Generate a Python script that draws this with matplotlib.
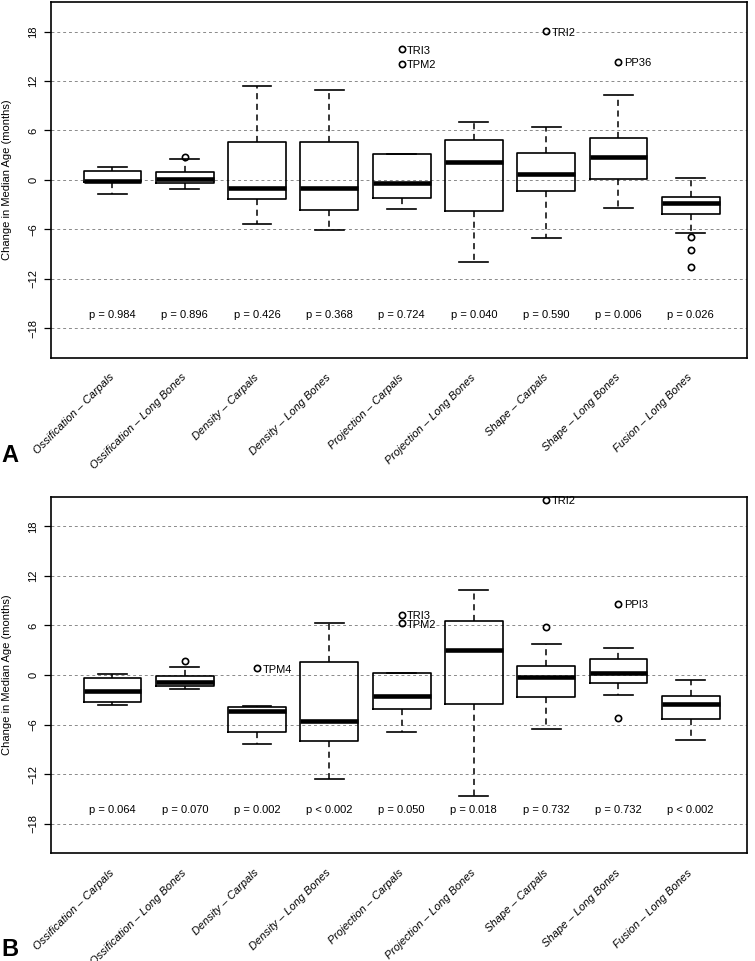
import matplotlib
matplotlib.use("Agg")
import matplotlib.pyplot as plt
from matplotlib.transforms import offset_copy

plt.rcParams['font.family'] = ['Liberation Sans', 'DejaVu Sans']

categories = ["Ossification – Carpals", "Ossification – Long Bones", "Density – Carpals",
              "Density – Long Bones", "Projection – Carpals", "Projection – Long Bones",
              "Shape – Carpals", "Shape – Long Bones", "Fusion – Long Bones"]
yticks = [-18, -12, -6, 0, 6, 12, 18]

# Panel A box statistics
a_whishi = [1.62, 2.5, 11.36, 10.96, 3.1, 7.0, 6.43, 10.3, 0.24]
a_q3 = [1.02, 0.93, 4.6, 4.6, 3.1, 4.8, 3.32, 5.05, -2.1]
a_med = [-0.1, 0.12, -1.05, -1.05, -0.44, 2.18, 0.69, 2.79, -2.79]
a_q1 = [-0.24, -0.44, -2.34, -3.67, -2.26, -3.76, -1.41, 0.05, -4.2]
a_whislo = [-1.7, -1.13, -5.37, -6.1, -3.59, -10.0, -7.07, -3.43, -6.42]
a_fliers = [[], [2.8], [], [], [15.84, 14.1], [], [18.06], [14.3], [-6.95, -8.52, -10.55]]
a_pvals = ["p = 0.984", "p = 0.896", "p = 0.426", "p = 0.368", "p = 0.724",
           "p = 0.040", "p = 0.590", "p = 0.006", "p = 0.026"]
a_lab_cat = [5, 5, 7, 8]
a_lab_val = [15.84, 14.1, 18.06, 14.3]
a_lab_text = ["TRI3", "TPM2", "TRI2", "PP36"]

# Panel B box statistics
b_whishi = [0.12, 0.92, -3.72, 6.34, 0.28, 10.3, 3.8, 3.31, -0.61]
b_q3 = [-0.36, -0.12, -3.93, 1.53, 0.28, 6.5, 1.09, 1.94, -2.59]
b_med = [-1.94, -0.81, -4.41, -5.62, -2.55, 3.07, -0.24, 0.28, -3.52]
b_q1 = [-3.27, -1.33, -6.96, -7.96, -4.12, -3.52, -2.63, -1.02, -5.33]
b_whislo = [-3.6, -1.7, -8.33, -12.6, -6.96, -14.7, -6.55, -2.47, -7.93]
b_fliers = [[], [1.73], [0.8], [], [7.3, 6.26], [], [21.2, 5.77], [8.64, -5.21], []]
b_pvals = ["p = 0.064", "p = 0.070", "p = 0.002", "p < 0.002", "p = 0.050",
           "p = 0.018", "p = 0.732", "p = 0.732", "p < 0.002"]
b_lab_cat = [3, 5, 5, 7, 8]
b_lab_val = [0.8, 7.3, 6.26, 21.2, 8.64]
b_lab_text = ["TPM4", "TRI3", "TPM2", "TRI2", "PPI3"]

W, H = 755, 961
fig = plt.figure(figsize=(W / 100, H / 100), dpi=100)


def make_axes(top_px, bottom_px):
    left, right = 50.7, 746.7
    return fig.add_axes([left / W, 1 - bottom_px / H, (right - left) / W, (bottom_px - top_px) / H])


def draw_panel(ax, whishi, q3, med, q1, whislo, fliers, pvals, lab_cat, lab_val, lab_text, letter, letter_y):
    stats = []
    for i in range(len(categories)):
        stats.append(dict(med=med[i], q1=q1[i], q3=q3[i], whislo=whislo[i], whishi=whishi[i],
                          fliers=fliers[i]))
    pos = list(range(1, len(categories) + 1))
    for y in yticks:
        ax.axhline(y, color='#8a8a8a', lw=0.7, ls=(0, (3, 3)), zorder=0.5)
    ax.bxp(stats, positions=pos, widths=0.8, capwidths=0.4, showfliers=True, manage_ticks=False,
           boxprops=dict(color='black', lw=1.2),
           medianprops=dict(color='black', lw=3.3, solid_capstyle='butt'),
           whiskerprops=dict(color='black', lw=1.1, linestyle=(0, (4, 3))),
           capprops=dict(color='black', lw=1.2),
           flierprops=dict(marker='o', markerfacecolor='none', markeredgecolor='black',
                           markersize=4.5, markeredgewidth=1.2))
    ax.set_xlim(0.145, 9.775)
    ax.set_ylim(-21.6, 21.6)
    ax.set_xticks([])
    ax.set_yticks(yticks)
    ax.set_yticklabels([str(t).replace('-', '\u2212') for t in yticks], rotation=90, va='center')
    ax.tick_params(axis='y', length=5, width=0.9, pad=4, labelsize=8)
    for s in ax.spines.values():
        s.set_linewidth(1.2)
    for i, p in enumerate(pvals):
        ax.text(pos[i], -16.4, p, ha='center', va='center', fontsize=8)
    for c, v, t in zip(lab_cat, lab_val, lab_text):
        ax.annotate(t, (c, v), xytext=(4, -1), textcoords='offset points', ha='left', va='center',
                    fontsize=8, annotation_clip=False)
    tr = offset_copy(ax.get_xaxis_transform(), fig=fig, y=-18, units='dots')
    for i, c in enumerate(categories):
        ax.text(pos[i], 0, c, transform=tr, rotation=45, ha='right', va='center',
                rotation_mode='anchor', style='italic', fontsize=8, clip_on=False)
    bb = ax.get_position()
    fig.text(7 / W, (bb.y0 + bb.y1) / 2, "Change in Median Age (months)", rotation=90,
             ha='center', va='center', fontsize=8)
    fig.text(10 / W, 1 - letter_y / H, letter, fontsize=17, fontweight='bold', ha='center', va='center')


axA = make_axes(2, 357.7)
draw_panel(axA, a_whishi, a_q3, a_med, a_q1, a_whislo, a_fliers, a_pvals,
           a_lab_cat, a_lab_val, a_lab_text, "A", 455)
axB = make_axes(496.7, 853.3)
draw_panel(axB, b_whishi, b_q3, b_med, b_q1, b_whislo, b_fliers, b_pvals,
           b_lab_cat, b_lab_val, b_lab_text, "B", 950)

fig.savefig("out.png", dpi=100)
